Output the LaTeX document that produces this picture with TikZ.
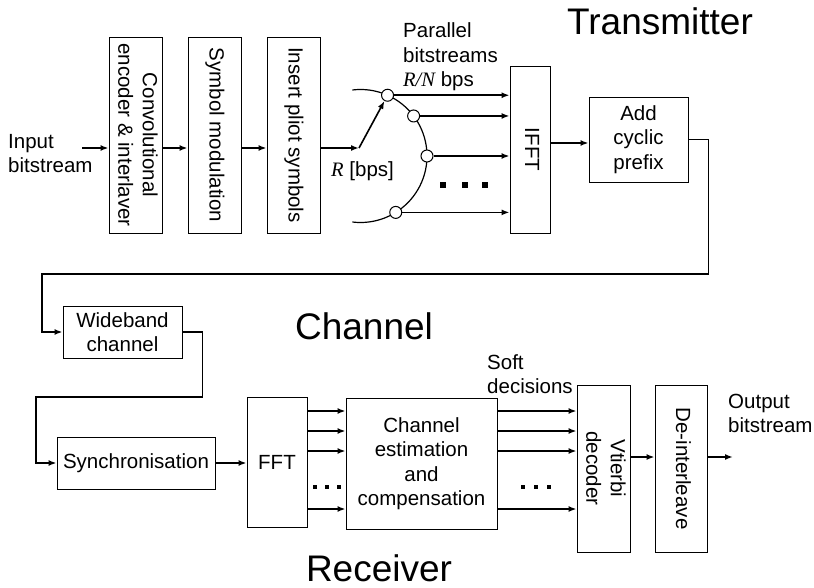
\documentclass[tikz,border=0pt]{standalone}
\usepackage{fontspec}
\setmainfont{Liberation Sans}
\newfontfamily\serifit{Liberation Serif}
\usetikzlibrary{arrows.meta}

\newcommand{\vtxt}[1]{\rotatebox{-90}{\begin{tabular}{@{}c@{}}#1\end{tabular}}}

\begin{document}
\begin{tikzpicture}[x=1pt, y=-1pt,
  every node/.style={font=\fontsize{20.5}{24.5}\selectfont},
  box/.style={draw, line width=0.9pt, inner sep=0pt, align=center},
  arr/.style={line width=1.6pt, -{Latex[length=8pt,width=6pt]}},
  port/.style={draw, fill=white, circle, line width=1pt, minimum size=12pt, inner sep=0pt},
  title/.style={font=\fontsize{37}{44}\selectfont, inner sep=0pt},
  lbl/.style={inner sep=0pt, align=left, anchor=west}]
\useasboundingbox (0,0) rectangle (814,588);

% transmitter
\node[box, minimum width=53pt, minimum height=196pt] (enc) at (135.5,135) {\vtxt{Convolutional\\encoder \& interlaver}};
\node[box, minimum width=53pt, minimum height=196pt] (sym) at (214.5,135) {\vtxt{Symbol modulation}};
\node[box, minimum width=53pt, minimum height=196pt] (pil) at (293.5,135) {\vtxt{Insert pliot symbols}};
\node[box, minimum width=40pt, minimum height=167pt] (ifft) at (530,149.5) {\vtxt{IFFT}};
\node[box, minimum width=99pt, minimum height=85pt] (cp) at (638.5,139.5) {Add\\cyclic\\prefix};
\node[title] (tx) at (660,21.5) {Transmitter};

\node[lbl] (inlbl) at (8,153.5) {Input\\bitstream};
\coordinate (in) at (82,148);
\draw[arr] (in) -- (in -| enc.west);
\draw[arr] (in -| enc.east) -- (in -| sym.west);
\draw[arr] (in -| sym.east) -- (in -| pil.west);

% serial to parallel switch
\coordinate (sw) at (359,148);
\coordinate (hub) at (360.5,156);
\draw[arr] (in -| pil.east) -- (sw);
\draw[line width=1.2pt] (hub) ++(97:66.5pt) arc[start angle=97, end angle=-97, radius=66.5pt];
\foreach \a/\n in {66/1, 37/2, 0/3, -58/4}
  \path (hub) ++(\a:66.5pt) node[port] (c\n) {};
\draw[arr] (sw) -- (c1);
\foreach \n in {1,...,4}
  \draw[arr] (c\n.east) -- (c\n.east -| ifft.west);
\foreach \x in {443,465,485}
  \fill[shift={(\x,185)}] (-2.7,-2.7) rectangle (2.7,2.7);
\node[lbl] (rlbl) at (331,171) {{\serifit\itshape R} [bps]};
\node[lbl] (plbl) at (403,57) {Parallel\\bitstreams\\{\serifit\itshape R/N} bps};

\draw[arr] ([yshift=-3.5pt]cp.west -| ifft.east) -- ([yshift=-3.5pt]cp.west);

% channel
\node[box, minimum width=119pt, minimum height=52pt] (wb) at (122.5,332) {Wideband\\channel};
\node[title] (ch) at (364,326.5) {Channel};
\draw[arr] (cp.east) -- ++(20,0) |- (42,274) |- (wb.west);

% receiver
\node[box, minimum width=158pt, minimum height=52pt] (sync) at (136,463) {Synchronisation};
\node[box, minimum width=60pt, minimum height=130pt] (fft) at (277,462) {FFT};
\node[box, minimum width=151pt, minimum height=131pt] (est) at (421.5,463.5) {Channel\\estimation\\and\\compensation};
\node[box, minimum width=53pt, minimum height=167pt] (vit) at (603.5,468.5) {\vtxt{Vtierbi\\decoder}};
\node[box, minimum width=52pt, minimum height=167pt] (dei) at (681,468.5) {\vtxt{De-interleave}};
\node[title] (rx) at (379,568) {Receiver};

\draw[arr] (wb.east) -- ++(20,0) |- (36,397) |- (sync.west);
\draw[arr] (sync.east) -- (sync.east -| fft.west);
\foreach \y in {411,431,451,509} {
  \draw[arr] (fft.east |- 0,\y) -- (est.west |- 0,\y);
  \draw[arr] (est.east |- 0,\y) -- (vit.west |- 0,\y);
}
\foreach \x in {315,327,339,523,536,549}
  \fill[shift={(\x,487)}] (-2,-2) rectangle (2,2);
\node[lbl] (slbl) at (487,374) {Soft\\decisions};

\coordinate (out) at (733,457);
\draw[arr] (vit.east |- out) -- (dei.west |- out);
\draw[arr] (dei.east |- out) -- (out);
\node[lbl] (olbl) at (728,413.5) {Output\\bitstream};
\end{tikzpicture}
\end{document}
